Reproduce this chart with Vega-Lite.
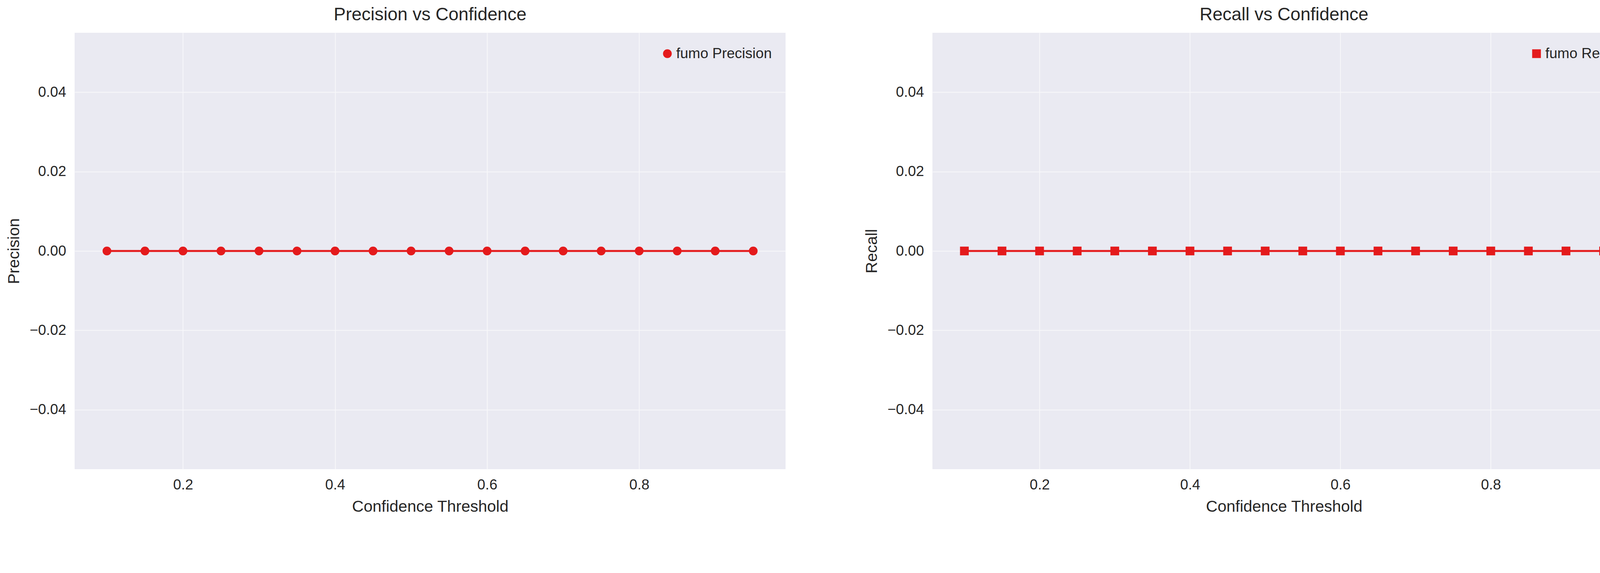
{
  "$schema": "https://vega.github.io/schema/vega-lite/v6.json",
  "background": "white",
  "padding": {"left": 15, "top": 15, "right": 40, "bottom": 10},
  "datasets": {
    "fumo": [
      {"threshold": 0.10, "precision": 0, "recall": 0},
      {"threshold": 0.15, "precision": 0, "recall": 0},
      {"threshold": 0.20, "precision": 0, "recall": 0},
      {"threshold": 0.25, "precision": 0, "recall": 0},
      {"threshold": 0.30, "precision": 0, "recall": 0},
      {"threshold": 0.35, "precision": 0, "recall": 0},
      {"threshold": 0.40, "precision": 0, "recall": 0},
      {"threshold": 0.45, "precision": 0, "recall": 0},
      {"threshold": 0.50, "precision": 0, "recall": 0},
      {"threshold": 0.55, "precision": 0, "recall": 0},
      {"threshold": 0.60, "precision": 0, "recall": 0},
      {"threshold": 0.65, "precision": 0, "recall": 0},
      {"threshold": 0.70, "precision": 0, "recall": 0},
      {"threshold": 0.75, "precision": 0, "recall": 0},
      {"threshold": 0.80, "precision": 0, "recall": 0},
      {"threshold": 0.85, "precision": 0, "recall": 0},
      {"threshold": 0.90, "precision": 0, "recall": 0},
      {"threshold": 0.95, "precision": 0, "recall": 0}
    ]
  },
  "data": {"name": "fumo"},
  "spacing": 200,
  "resolve": {"scale": {"color": "independent"}},
  "hconcat": [
    {
      "title": "Precision vs Confidence",
      "width": 1820,
      "height": 1118,
      "mark": {"type": "line", "point": {"filled": true, "size": 500, "opacity": 1}, "strokeWidth": 5},
      "encoding": {
        "x": {"field": "threshold", "type": "quantitative", "title": "Confidence Threshold",
              "scale": {"domain": [0.0575, 0.9925], "nice": false, "zero": false},
              "axis": {"values": [0.2, 0.4, 0.6, 0.8], "format": ".1f"}},
        "y": {"field": "precision", "type": "quantitative", "title": "Precision",
              "scale": {"domain": [-0.055, 0.055], "nice": false},
              "axis": {"values": [-0.04, -0.02, 0, 0.02, 0.04], "format": ".2f"}},
        "color": {"datum": "fumo Precision", "type": "nominal",
                  "scale": {"range": ["#e41a1c"]},
                  "legend": {"title": null, "orient": "top-right", "symbolType": "circle"}}
      }
    },
    {
      "title": "Recall vs Confidence",
      "width": 1800,
      "height": 1118,
      "mark": {"type": "line", "point": {"filled": true, "size": 500, "opacity": 1, "shape": "square"}, "strokeWidth": 5},
      "encoding": {
        "x": {"field": "threshold", "type": "quantitative", "title": "Confidence Threshold",
              "scale": {"domain": [0.0575, 0.9925], "nice": false, "zero": false},
              "axis": {"values": [0.2, 0.4, 0.6, 0.8], "format": ".1f"}},
        "y": {"field": "recall", "type": "quantitative", "title": "Recall",
              "scale": {"domain": [-0.055, 0.055], "nice": false},
              "axis": {"values": [-0.04, -0.02, 0, 0.02, 0.04], "format": ".2f"}},
        "color": {"datum": "fumo Recall", "type": "nominal",
                  "scale": {"range": ["#e41a1c"]},
                  "legend": {"title": null, "orient": "top-right", "symbolType": "square"}}
      }
    }
  ],
  "config": {
    "font": "Liberation Sans",
    "view": {"fill": "#EAEAF2", "stroke": null},
    "title": {"fontSize": 46, "fontWeight": "normal", "color": "#262626", "offset": 22},
    "axis": {
      "grid": true, "gridColor": "#F7F7FA", "gridWidth": 2,
      "domain": false, "ticks": false,
      "labelFontSize": 37, "labelColor": "#262626", "labelPadding": 22,
      "titleFontSize": 41, "titleFontWeight": "normal", "titleColor": "#262626", "titlePadding": 18
    },
    "legend": {
      "labelFontSize": 37, "labelColor": "#262626", "labelLimit": 0, "symbolSize": 500,
      "symbolStrokeWidth": 0, "offset": 25, "padding": 10
    }
  }
}
